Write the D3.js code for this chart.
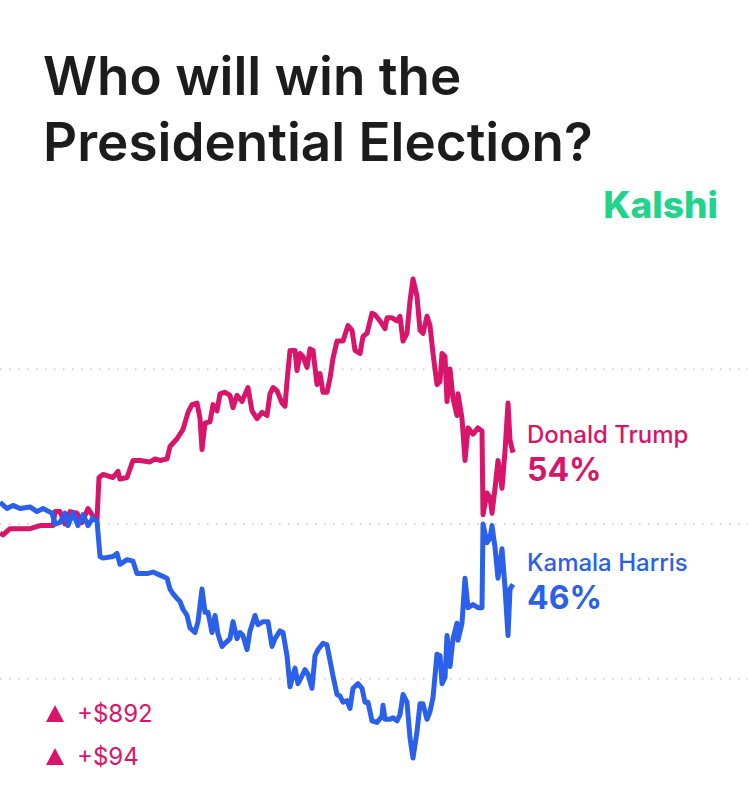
<!DOCTYPE html>
<html>
<head>
<meta charset="utf-8">
<script src="https://cdn.jsdelivr.net/npm/d3@7"></script>
<style>
  html, body { margin: 0; padding: 0; background: #fff; }
  svg { display: block; }
</style>
</head>
<body>
<div id="root"></div>
<script>
// day index, win chance in %
var trump = [[0,49.4],[0.6,49.3],[2,49.7],[4,49.7],[6,49.7],[8,49.9],[10,49.9],[10.6,49.9],[11,50.8],[12,50.8],[13,50.0],[14,50.8],[15.4,50.7],[16.4,50.1],[17.6,51.0],[18.6,50.5],[19.4,50.3],[19.8,53.0],[20.6,53.2],[22.6,53.0],[23.6,53.4],[24,52.9],[25.4,53.0],[26.6,54.1],[28,54.1],[30,54.0],[31,54.2],[32,54.1],[33.4,54.2],[34,55.0],[35.4,55.5],[36.6,56.1],[37.6,57.2],[38.4,57.7],[39.4,57.8],[40,56.8],[40.4,54.8],[41,56.5],[42,56.6],[42.6,57.7],[43.4,57.3],[44,58.4],[45,58.5],[46,58.3],[46.6,57.5],[47.4,58.3],[48.4,57.9],[49.6,58.8],[50.4,57.3],[51.4,56.8],[52.4,57.2],[53.4,57.0],[54,58.4],[54.6,58.8],[55.4,58.6],[56.4,57.8],[57,57.6],[57.4,59.2],[58,61.2],[59,61.2],[59.4,59.9],[60,61.0],[60.6,60.8],[61.4,60.1],[62,61.3],[62.6,61.2],[63.4,59.0],[64,59.7],[64.6,58.5],[65.4,58.5],[66,59.4],[66.6,60.7],[67.4,61.8],[68.6,61.8],[69.6,62.8],[70.4,62.5],[71,61.2],[72,61.0],[72.6,62.1],[73.4,62.3],[74.4,63.6],[75,63.5],[76,63.1],[77,62.6],[77.4,63.3],[78.4,63.3],[79.4,63.1],[80,63.4],[80.6,61.8],[81.4,62.3],[82,64.4],[82.6,65.8],[83.4,64.7],[84,62.5],[84.6,62.3],[85.4,63.4],[86,62.8],[86.6,61.0],[87.4,59.0],[88,59.2],[88.4,61.0],[89,60.8],[89.4,57.9],[90,60.0],[90.6,58.1],[91.4,57.0],[91.6,58.4],[92.4,56.8],[93,54.1],[93.6,56.2],[94.6,55.8],[95.6,56.2],[96.4,56.0],[96.6,50.6],[97.4,52.0],[98,51.7],[98.4,50.7],[99,52.3],[99.6,54.1],[100.4,52.3],[101,54.7],[101.6,57.8],[102,55.4],[102.6,54.6]];

var harris = [[0,51.4],[1.4,51.0],[2.6,51.2],[4,51.0],[6,51.1],[7.4,50.8],[8.6,51.0],[10.4,50.7],[11,50.0],[12,50.1],[13,50.7],[13.6,49.9],[14.6,50.7],[15.6,49.9],[16.6,50.6],[17.6,49.9],[18.6,50.4],[19.4,50.2],[20,47.9],[20.6,47.8],[22.6,47.9],[23.4,48.1],[24,47.4],[25.4,47.7],[26.6,47.6],[27.4,46.8],[29.4,46.8],[30.6,46.9],[32,46.7],[33.4,46.5],[34,45.8],[34.6,45.5],[35.4,45.2],[36,45.0],[36.6,44.5],[37.4,44.1],[38,43.3],[39,43.0],[39.6,43.7],[40.4,45.8],[41,44.3],[41.6,44.3],[42.4,43.0],[43,44.1],[43.6,42.9],[44.4,42.1],[45,42.3],[46,42.6],[46.6,43.7],[47.4,42.6],[48,43.0],[48.6,42.8],[49.4,41.9],[50,43.1],[51,44.1],[51.6,43.5],[52.6,43.7],[53.6,43.7],[54.4,42.1],[55,42.6],[56,43.1],[56.6,43.0],[57.4,41.5],[58,39.5],[59,40.7],[59.6,39.7],[60.4,40.2],[61,40.6],[61.6,40.3],[62.4,39.4],[63,41.5],[63.6,41.9],[64.6,42.3],[65.4,42.2],[66,41.2],[66.6,40.2],[67.4,39.0],[68,38.9],[68.6,38.5],[69.4,38.6],[70,38.1],[70.6,39.4],[71.6,39.7],[72.4,39.4],[73,38.5],[73.6,38.5],[74.4,37.3],[75.4,37.2],[76.4,37.6],[76.6,38.3],[77,37.4],[78,37.4],[78.6,37.5],[79.4,37.3],[80,37.7],[80.6,39.0],[81.4,38.5],[82,36.2],[82.6,34.9],[83.4,36.6],[84,38.4],[84.6,38.4],[85.4,37.4],[86,37.9],[86.6,38.8],[87.4,41.6],[88,41.5],[88.4,39.7],[89,40.1],[89.4,42.8],[90,40.8],[90.6,42.6],[91.4,43.6],[91.6,42.5],[92.4,43.6],[93,46.5],[93.6,44.6],[94.6,44.8],[95.6,44.6],[96.4,44.6],[96.6,50.0],[97.4,48.8],[98,49.1],[98.4,49.9],[99,48.5],[99.6,46.5],[100.4,48.4],[101,45.9],[101.6,42.8],[102,45.8],[102.6,46.1]];

var gridValues = [40, 50, 60];
var candidates = ['Donald Trump', 'Kamala Harris'];
var currentPct = ['54%', '46%'];
var trades = ['+$892', '+$94'];

var w = 748;
var h = 800;
var pink = '#d8156a';
var blue = '#2a60ea';
var font = 'Inter, "Noto Sans", sans-serif';

var svg = d3.select('#root').append('svg')
  .attr('width', w)
  .attr('height', h);

// title
svg.append('text')
  .attr('font-family', font)
  .attr('font-size', 53)
  .attr('font-weight', 600)
  .attr('fill', '#1c1c1c')
  .selectAll('tspan')
  .data(['Who will win the', 'Presidential Election?'])
  .enter()
  .append('tspan')
  .attr('x', 43)
  .attr('y', function(d, i) { return 95 + i * 66; })
  .text(function(d) { return d; });

svg.append('text')
  .attr('x', 718)
  .attr('y', 218)
  .attr('text-anchor', 'end')
  .attr('font-family', font)
  .attr('font-size', 37)
  .attr('font-weight', 800)
  .attr('fill', '#22d38c')
  .text('Kalshi');

var x = d3.scaleLinear().domain([0, 102.6]).range([0, 513]);
var y = d3.scaleLinear().domain([40, 60]).range([679, 369]);

// grid
svg.append('g')
  .attr('id', 'grid')
  .selectAll('line')
  .data(gridValues)
  .enter()
  .append('line')
  .attr('x1', 0)
  .attr('x2', w)
  .attr('y1', function(d) { return y(d); })
  .attr('y2', function(d) { return y(d); })
  .attr('stroke', '#c9c9c9')
  .attr('stroke-width', 1.5)
  .attr('stroke-dasharray', '1.5 7.5');

var line = d3.line()
  .x(function(d) { return x(d[0]); })
  .y(function(d) { return y(d[1]); });

svg.append('path')
  .datum(trump)
  .attr('d', line)
  .attr('fill', 'none')
  .attr('stroke', pink)
  .attr('stroke-width', 5)
  .attr('stroke-linejoin', 'round');

svg.append('path')
  .datum(harris)
  .attr('d', line)
  .attr('fill', 'none')
  .attr('stroke', blue)
  .attr('stroke-width', 5)
  .attr('stroke-linejoin', 'round');

// labels on the right
var labelY = [443, 571];
var colors = [pink, blue];
candidates.forEach(function(name, i) {
  svg.append('text')
    .attr('x', 527)
    .attr('y', labelY[i])
    .attr('font-family', font)
    .attr('font-size', 24)
    .attr('font-weight', 500)
    .attr('fill', colors[i])
    .text(name);
  svg.append('text')
    .attr('x', 527)
    .attr('y', labelY[i] + 38)
    .attr('font-family', font)
    .attr('font-size', 32)
    .attr('font-weight', 700)
    .attr('fill', colors[i])
    .text(currentPct[i]);
});

// trades
var tradeG = svg.append('g').attr('id', 'trades');
trades.forEach(function(t, i) {
  var cy = 722 + i * 43;
  tradeG.append('path')
    .attr('d', 'M46,' + cy + 'L55,' + (cy - 17) + 'L64,' + cy + 'Z')
    .attr('fill', pink);
  tradeG.append('text')
    .attr('x', 77)
    .attr('y', cy)
    .attr('font-family', font)
    .attr('font-size', 24)
    .attr('font-weight', 400)
    .attr('fill', pink)
    .text(t);
});
</script>
</body>
</html>
